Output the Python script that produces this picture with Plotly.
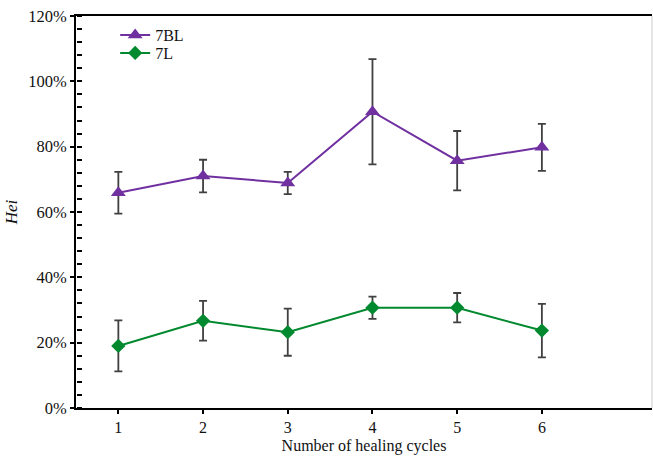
import plotly.graph_objects as go

cycles = [1, 2, 3, 4, 5, 6]
bl_vals = [65.9, 71.0, 68.9, 90.7, 75.7, 79.8]
bl_err = [6.4, 5.0, 3.4, 16.1, 9.1, 7.2]
l_vals = [19.0, 26.7, 23.2, 30.7, 30.7, 23.7]
l_err = [7.8, 6.1, 7.2, 3.4, 4.5, 8.2]

purple = "#7030A0"
green = "#00892E"
errc = "#404040"
font = "Liberation Serif"

fig = go.Figure()
fig.add_trace(go.Scatter(
    x=cycles, y=bl_vals, name="7BL", mode="lines+markers",
    line=dict(color=purple, width=2),
    marker=dict(symbol="triangle-up", size=13, color=purple),
    error_y=dict(type="data", array=bl_err, color=errc, thickness=1.8, width=4),
    legend="legend",
))
fig.add_trace(go.Scatter(
    x=cycles, y=l_vals, name="7L", mode="lines+markers",
    line=dict(color=green, width=2),
    marker=dict(symbol="diamond", size=11, color=green),
    error_y=dict(type="data", array=l_err, color=errc, thickness=1.8, width=4),
    legend="legend2",
))
# carrier trace for the inner tick axis
fig.add_trace(go.Scatter(x=[1, 6], y=[0, 120], yaxis="y2", showlegend=False,
                         mode="markers", marker=dict(opacity=0), hoverinfo="skip"))

leg = dict(xanchor="left", yanchor="middle", bgcolor="rgba(0,0,0,0)",
           font=dict(size=16, family=font, color="#111"), itemwidth=30)

fig.update_layout(
    width=653, height=456,
    margin=dict(l=76, r=1, t=16, b=48),
    paper_bgcolor="white", plot_bgcolor="rgba(0,0,0,0)",
    font=dict(family=font, size=16, color="#111"),
    showlegend=True,
    legend=dict(leg, x=0.068, y=1 - (35 - 16) / 392),
    legend2=dict(leg, x=0.068, y=1 - (53 - 16) / 392),
    xaxis=dict(range=[0.5, 7.3], tickvals=cycles, ticks="outside", ticklen=4,
               tickwidth=1.5, tickcolor="black", showline=True, linecolor="black",
               linewidth=2, mirror=True, showgrid=False, zeroline=False,
               title=dict(text="Number of healing cycles", font=dict(size=16, family=font), standoff=5),
               tickfont=dict(size=16, family=font)),
    yaxis=dict(range=[0, 120], tick0=0, dtick=20, ticksuffix="%", ticks="outside",
               ticklen=4, tickwidth=2, tickcolor="black", showline=True,
               linecolor="black", linewidth=2, showgrid=False, zeroline=False,
               title=dict(text="<i>Hei</i>", font=dict(size=17, family=font), standoff=6),
               tickfont=dict(size=16.5, family=font)),
    yaxis2=dict(range=[0, 120], overlaying="y", side="right", anchor="free",
                position=0, tick0=0, dtick=20,
                ticks="outside", ticklen=5, tickwidth=2, tickcolor="black",
                minor=dict(tick0=0, dtick=4, ticks="outside", ticklen=5, tickwidth=1.5, tickcolor="black"),
                showticklabels=False, showline=False, showgrid=False, zeroline=False),
    shapes=[dict(type="line", xref="paper", yref="paper", x0=1, x1=1, y0=0, y1=1,
                 line=dict(color="#cccccc", width=1))],
)

fig.write_html("out.html")
